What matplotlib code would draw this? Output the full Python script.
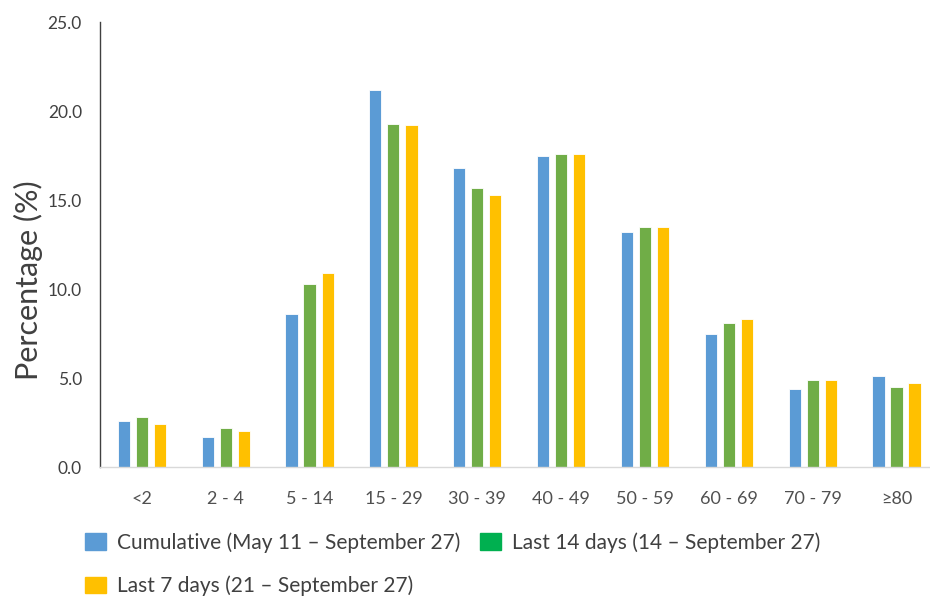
import matplotlib.pyplot as plt
import matplotlib.patches as mpatches
import numpy as np

plt.rcParams['font.family'] = ['Lato', 'DejaVu Sans']

# data
age_groups = ['<2', '2 - 4', '5 - 14', '15 - 29', '30 - 39', '40 - 49',
              '50 - 59', '60 - 69', '70 - 79', '≥80']
cumulative = [2.6, 1.7, 8.6, 21.2, 16.8, 17.5, 13.2, 7.5, 4.4, 5.1]
last_14 = [2.8, 2.2, 10.3, 19.3, 15.7, 17.6, 13.5, 8.1, 4.9, 4.5]
last_7 = [2.4, 2.0, 10.9, 19.2, 15.3, 17.6, 13.5, 8.3, 4.9, 4.7]
series_labels = ['Cumulative (May 11 – September 27)',
                 'Last 14 days (14 – September 27)',
                 'Last 7 days (21 – September 27)']

blue, green, yellow = '#5B9BD5', '#70AD47', '#FFC000'
legend_green = '#00B050'

fig = plt.figure(figsize=(9.3, 5.96), dpi=100)
ax = fig.add_axes([0.1075, 0.2164, 0.8925, 0.7466])

x = np.arange(len(age_groups))
w = 0.145
off = 0.215
ax.bar(x - off, cumulative, w, color=blue, edgecolor='white', linewidth=0.6)
ax.bar(x, last_14, w, color=green, edgecolor='white', linewidth=0.6)
ax.bar(x + off, last_7, w, color=yellow, edgecolor='white', linewidth=0.6)

ax.set_xlim(-0.5, 9.4)
ax.set_ylim(0, 25)
ax.set_yticks(np.arange(0, 25.1, 5))
ax.set_yticklabels([f'{v:.1f}' for v in np.arange(0, 25.1, 5)])
ax.set_xticks(x)
ax.set_xticklabels(age_groups)
ax.tick_params(axis='x', length=0, labelsize=13, pad=17, labelcolor='#505050')
ax.tick_params(axis='y', length=0, labelsize=12.5, pad=13, labelcolor='#404040')

for s in ['top', 'right']:
    ax.spines[s].set_visible(False)
ax.spines['left'].set_color('#404040')
ax.spines['left'].set_linewidth(1.0)
ax.spines['bottom'].set_color('#D9D9D9')
ax.spines['bottom'].set_linewidth(1.0)

ax.set_ylabel('Percentage (%)', fontsize=22, color='#404040')
ax.yaxis.set_label_coords(-0.069, 0.42)

handles = [mpatches.Patch(color=blue), mpatches.Patch(color=yellow),
           mpatches.Patch(color=legend_green)]
labels = [series_labels[0], series_labels[2], series_labels[1]]
fig.legend(handles, labels, ncol=2, loc='upper left',
           bbox_to_anchor=(0.0914, 0.107), frameon=False, fontsize=15,
           labelcolor='#404040', handlelength=1.0, handleheight=0.82,
           handletextpad=0.53, columnspacing=0.96, labelspacing=1.1,
           borderpad=0, borderaxespad=0)

fig.savefig('out.png', dpi=100)
